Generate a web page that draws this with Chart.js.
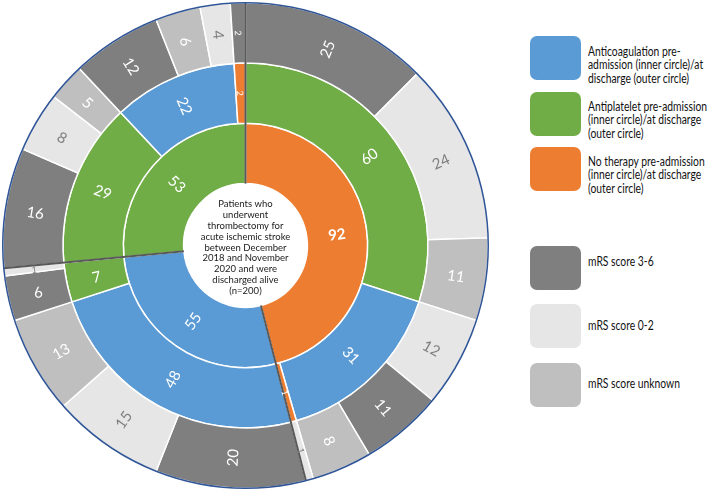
<!DOCTYPE html>
<html>
<head>
<meta charset="utf-8">
<script src="https://cdn.jsdelivr.net/npm/chart.js@4.4.0/dist/chart.umd.min.js"></script>
<style>
    body { margin: 0; background: #fff; width: 708px; height: 491px; overflow: hidden; position: relative; font-family: Lato, "Liberation Sans", sans-serif; }
    #chart-wrap { position: absolute; left: 0; top: 0; width: 491px; height: 491px; }
    .legend-item { position: absolute; left: 530px; }
    .legend-box { position: absolute; left: 0; top: 0; width: 51px; height: 44px; border-radius: 7px; }
    .legend-text { position: absolute; left: 58px; white-space: nowrap; font-size: 12.5px; line-height: 13.4px; color: #111; transform-origin: left top; }
</style>
</head>
<body>
<div id="chart-wrap"><canvas id="sunburst" width="491" height="491"></canvas></div>
<div id="legend"></div>
<script>
// inner circle: therapy pre-admission
const innerValues = [92, 55, 53];
const innerGroups = ['none', 'anticoag', 'antiplatelet'];

// middle circle: therapy at discharge
const middleValues = [60, 31, 1, 48, 7, 29, 22, 2];
const middleGroups = ['antiplatelet', 'anticoag', 'none', 'anticoag', 'antiplatelet', 'antiplatelet', 'anticoag', 'none'];

// outer circle: mRS score
const outerValues = [25, 24, 11, 12, 11, 8, 1, 20, 15, 13, 6, 1, 16, 8, 5, 12, 6, 4, 2];
const outerScores = ['3-6', '0-2', 'unknown', '0-2', '3-6', 'unknown', '0-2', '3-6', '0-2', 'unknown', '3-6', '0-2', '3-6', '0-2', 'unknown', '3-6', 'unknown', '0-2', '3-6'];

const centerLines = ['Patients who', 'underwent', 'thrombectomy for', 'acute ischemic stroke', 'between December', '2018 and November', '2020 and were', 'discharged alive', '(n=200)'];

const groupColors = { anticoag: '#5b9bd5', antiplatelet: '#70ad47', none: '#ed7d31' };
const scoreColors = { '3-6': '#7f7f7f', '0-2': '#e7e6e6', 'unknown': '#bfbfbf' };

const legendGroups = [
    { color: groupColors.anticoag, top: 36, lines: ['Anticoagulation pre-', 'admission (inner circle)/at', 'discharge (outer circle)'], textTop: 45 },
    { color: groupColors.antiplatelet, top: 92, lines: ['Antiplatelet pre-admission', '(inner circle)/at discharge', '(outer circle)'], textTop: 100 },
    { color: groupColors.none, top: 147, lines: ['No therapy pre-admission', '(inner circle)/at discharge', '(outer circle)'], textTop: 155 },
    { color: scoreColors['3-6'], top: 246, lines: ['mRS score 3-6'], textTop: 255 },
    { color: scoreColors['0-2'], top: 304, lines: ['mRS score 0-2'], textTop: 319 },
    { color: scoreColors['unknown'], top: 363, lines: ['mRS score unknown'], textTop: 377 }
];

const FONT = 'Lato, "Liberation Sans", sans-serif';

// the original uses a narrow font, so squeeze the legend text to the same width
function legendScale() {
    const c = document.createElement('canvas').getContext('2d');
    c.font = '12.5px ' + FONT;
    return 119 / c.measureText('Antiplatelet pre-admission').width;
}

function buildLegend() {
    const legend = document.getElementById('legend');
    const sx = legendScale();
    legendGroups.forEach(g => {
        const item = document.createElement('div');
        item.className = 'legend-item';
        item.style.top = g.top + 'px';
        const box = document.createElement('div');
        box.className = 'legend-box';
        box.style.background = g.color;
        const text = document.createElement('div');
        text.className = 'legend-text';
        text.style.top = (g.textTop - g.top) + 'px';
        text.style.transform = `scaleX(${sx})`;
        text.innerHTML = g.lines.join('<br>');
        item.appendChild(box);
        item.appendChild(text);
        legend.appendChild(item);
    });
}

const sunburstDecor = {
    id: 'sunburstDecor',
    afterDatasetsDraw(chart) {
        const ctx = chart.ctx;
        const outerMeta = chart.getDatasetMeta(0);
        const innerMeta = chart.getDatasetMeta(2);
        const first = outerMeta.data[0];
        const cx = first.x, cy = first.y;
        const rOuter = first.outerRadius;
        const rHole = innerMeta.data[0].innerRadius;

        // separator lines at the inner circle boundaries
        ctx.save();
        ctx.strokeStyle = '#595959';
        ctx.lineWidth = 2;
        innerMeta.data.forEach(arc => {
            const a = arc.startAngle;
            ctx.beginPath();
            ctx.moveTo(cx + rHole * Math.cos(a), cy + rHole * Math.sin(a));
            ctx.lineTo(cx + rOuter * Math.cos(a), cy + rOuter * Math.sin(a));
            ctx.stroke();
        });

        // outer blue border
        ctx.strokeStyle = '#2f5597';
        ctx.lineWidth = 1.5;
        ctx.beginPath();
        ctx.arc(cx, cy, rOuter, 0, Math.PI * 2);
        ctx.stroke();

        // value labels, rotated along the radius
        ctx.textAlign = 'center';
        ctx.textBaseline = 'middle';
        chart.data.datasets.forEach((ds, di) => {
            const meta = chart.getDatasetMeta(di);
            meta.data.forEach((arc, i) => {
                const value = ds.data[i];
                const a = (arc.startAngle + arc.endAngle) / 2;
                const r = (arc.innerRadius + arc.outerRadius) / 2;
                const theta = a + Math.PI / 2;
                const rot = theta <= Math.PI ? a : a - Math.PI;
                const bg = ds.backgroundColor[i];
                ctx.save();
                ctx.translate(cx + r * Math.cos(a), cy + r * Math.sin(a));
                ctx.rotate(rot);
                ctx.fillStyle = bg === scoreColors['0-2'] ? '#7f7f7f' : '#ffffff';
                const size = value <= 2 ? 9 : 15;
                const weight = (di === 2 && value === 92) ? 'bold ' : '';
                ctx.font = weight + size + 'px ' + FONT;
                ctx.fillText(String(value), 0, 1);
                ctx.restore();
            });
        });

        // centre text
        ctx.fillStyle = '#1a1a1a';
        ctx.font = '9.5px ' + FONT;
        const lh = 10.8;
        const startY = cy + 2 - (centerLines.length - 1) * lh / 2;
        centerLines.forEach((line, i) => ctx.fillText(line, cx, startY + i * lh));
        ctx.restore();
    }
};

buildLegend();

new Chart(document.getElementById('sunburst').getContext('2d'), {
    type: 'doughnut',
    data: {
        labels: outerValues.map((v, i) => 'mRS ' + outerScores[i]),
        datasets: [
            { data: outerValues, backgroundColor: outerScores.map(s => scoreColors[s]), borderColor: '#ffffff', borderWidth: 1.5 },
            { data: middleValues, backgroundColor: middleGroups.map(g => groupColors[g]), borderColor: '#ffffff', borderWidth: 1.5 },
            { data: innerValues, backgroundColor: innerGroups.map(g => groupColors[g]), borderColor: '#ffffff', borderWidth: 1.5 }
        ]
    },
    options: {
        responsive: false,
        animation: false,
        cutout: '25.5%',
        layout: { padding: 2 },
        plugins: { legend: { display: false }, tooltip: { enabled: false } },
        events: []
    },
    plugins: [sunburstDecor]
});
</script>
</body>
</html>
